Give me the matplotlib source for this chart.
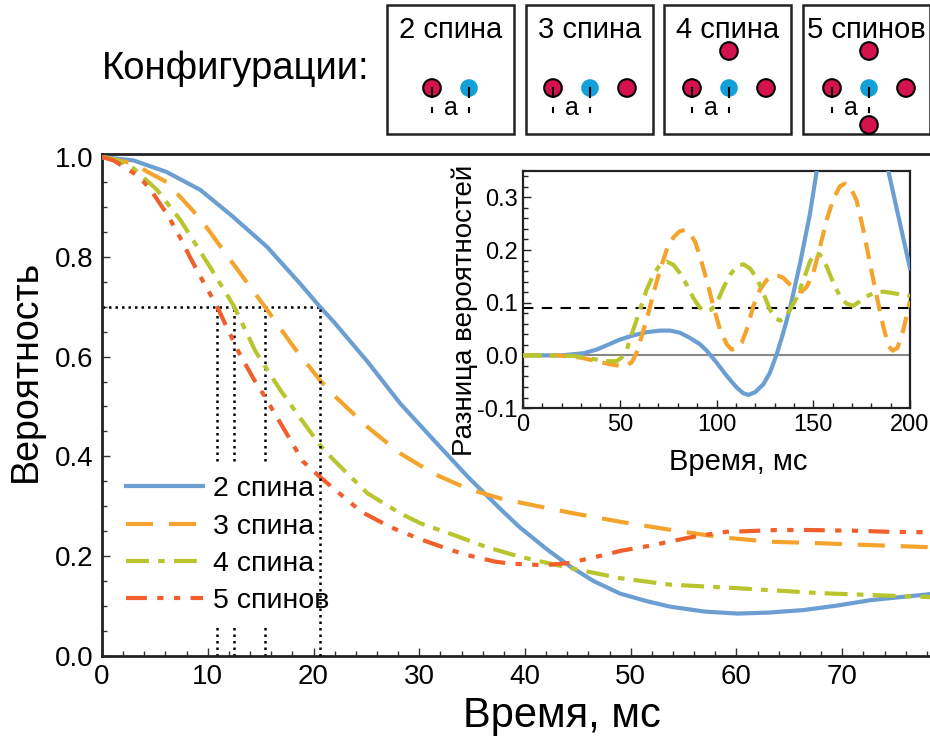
import numpy as np
import matplotlib
matplotlib.use("Agg")
import matplotlib.pyplot as plt
from matplotlib.patches import Rectangle, Circle
from matplotlib.ticker import MultipleLocator, FormatStrFormatter

plt.rcParams['font.family'] = ['Liberation Sans', 'DejaVu Sans']
plt.rcParams['axes.unicode_minus'] = False

# --- main plot: survival probability vs time (ms) ---
t2 = [0, 3, 6.1, 9.3, 12.4, 15.6, 18.7, 20.6, 21.9, 25.1, 28.2, 31.4, 34.6, 37.8, 39.5, 42, 44.3, 46.5, 49,
      51.5, 53.7, 57, 60.1, 63, 66.3, 69.5, 72.7, 78.3]
p2 = [1.0, 0.993, 0.97, 0.934, 0.88, 0.82, 0.747, 0.70, 0.67, 0.59, 0.506, 0.432, 0.359, 0.292, 0.258, 0.215, 0.179,
      0.15, 0.125, 0.11, 0.099, 0.089, 0.085, 0.087, 0.092, 0.101, 0.112, 0.124]

t3 = [0, 3, 4.5, 6.1, 9.3, 12.4, 15.4, 18.1, 20.6, 21.9, 25.1, 28.2, 31.4, 34.6, 37.8, 41.5, 44.3, 49, 53.7,
      58.5, 63.2, 67.9, 73, 78.3]
p3 = [1.0, 0.987, 0.968, 0.95, 0.876, 0.786, 0.70, 0.62, 0.553, 0.523, 0.459, 0.406, 0.365, 0.335, 0.315, 0.299,
      0.287, 0.269, 0.253, 0.238, 0.229, 0.226, 0.222, 0.218]

t4 = [0, 1.5, 3, 5.2, 7.4, 10.2, 12.5, 14.5, 16.8, 18.7, 20.6, 21.9, 25.1, 28.2, 30.1, 33.2, 36.4, 39.5, 44.3,
      49, 53.7, 60, 67.9, 78.3]
p4 = [1.0, 0.993, 0.977, 0.934, 0.874, 0.78, 0.70, 0.611, 0.535, 0.478, 0.423, 0.393, 0.326, 0.286, 0.266,
      0.243, 0.218, 0.199, 0.176, 0.156, 0.143, 0.136, 0.126, 0.118]

t5 = [0, 1.1, 3.5, 4.6, 6.2, 7.6, 8.3, 9.65, 10.9, 11.7, 13, 14.4, 15.3, 17.2, 19.0, 20.6, 23.5, 24.7, 27.3,
      30.1, 31.7, 34.2, 37.2, 38.7, 41.8, 44, 46.2, 49.1, 52.1, 53.6, 56.4, 59.1, 60.8, 63.8, 66.7, 71.4, 74.3, 78.3]
p5 = [1.0, 0.993, 0.961, 0.934, 0.884, 0.830, 0.80, 0.747, 0.70, 0.663, 0.606, 0.553, 0.523, 0.455, 0.39, 0.359,
      0.307, 0.287, 0.258, 0.234, 0.222, 0.204, 0.189, 0.185, 0.182, 0.186, 0.196, 0.211, 0.222, 0.229, 0.241,
      0.249, 0.25, 0.2525, 0.2525, 0.251, 0.249, 0.248]

level = 0.7
t_cross = [10.9, 12.5, 15.4, 20.6]   # time when each curve drops to 0.7

labels = ["2 спина", "3 спина", "4 спина", "5 спинов"]
colors = ["#6b9fd2", "#f4a42c", "#b9c52e", "#f15f2a"]
styles = ["-", (0, (6.5, 3.8)), (0, (5.5, 2.2, 1.6, 2.2)), (0, (5, 2.5, 1.5, 2.5, 1.5, 2.5))]

# --- inset: probability difference over a longer time ---
ti_2 = [0, 20, 31.2, 38.1, 43.2, 50.1, 57, 63.9, 70.8, 76, 81.1, 86.3, 91.5, 94.9, 100.1, 105.3, 110.4, 113.9,
        116.5, 119.9, 124.2, 127.6, 131.1, 134.5, 138, 143.2, 148.3, 151.8, 160, 170, 180, 184, 188.8, 200]
di_2 = [0, 0, 0.004, 0.011, 0.019, 0.030, 0.038, 0.044, 0.047, 0.047, 0.043, 0.033, 0.021, 0.009, -0.014, -0.039,
        -0.061, -0.072, -0.075, -0.070, -0.055, -0.033, 0.002, 0.043, 0.090, 0.175, 0.269, 0.350, 0.5, 0.6, 0.5,
        0.45, 0.35, 0.165]

ti_3 = [0, 17.4, 29.5, 38.1, 45, 50.1, 53.6, 56.2, 58.7, 61.3, 63.9, 67.4, 70.8, 74.2, 77.7, 81.1, 83.7, 86.3,
        88.9, 91.5, 94.9, 98.4, 101.8, 105.3, 107.8, 110.4, 113, 115.6, 119, 122.5, 125.9, 129.4, 132, 134.5, 138,
        141.4, 144, 146.6, 150, 153.5, 156.9, 160.4, 163.8, 166.4, 169, 172.4, 175.9, 179.3, 182.8, 186.2, 188.8,
        191, 193.5, 196.6, 200]
di_3 = [0, 0, -0.004, -0.011, -0.017, -0.020, -0.019, -0.013, 0.005, 0.036, 0.068, 0.118, 0.162, 0.200, 0.224,
        0.236, 0.238, 0.231, 0.216, 0.187, 0.143, 0.093, 0.049, 0.021, 0.011, 0.013, 0.024, 0.049, 0.093, 0.125,
        0.143, 0.151, 0.151, 0.147, 0.134, 0.123, 0.121, 0.130, 0.156, 0.206, 0.257, 0.297, 0.321, 0.326, 0.321,
        0.294, 0.238, 0.175, 0.112, 0.055, 0.018, 0.009, 0.014, 0.049, 0.103]

ti_4 = [0, 26, 34.6, 43.2, 48.4, 51, 53.6, 57, 60.5, 63.9, 67.4, 70.8, 74.2, 77.7, 81.1, 84.6, 88, 91.5, 94.9,
        97.5, 100.1, 103.5, 107, 110.4, 113.9, 117.3, 120.8, 124.2, 127.6, 130.2, 132.8, 135.4, 138, 141.4, 144.9,
        148.3, 150.9, 153.5, 156.9, 160.4, 163.8, 167.3, 170.7, 174.2, 177.6, 181.1, 186.2, 191.4, 200]
di_4 = [0, -0.001, -0.006, -0.011, -0.011, -0.004, 0.011, 0.049, 0.087, 0.125, 0.153, 0.172, 0.178, 0.172, 0.156,
        0.134, 0.109, 0.090, 0.084, 0.087, 0.099, 0.128, 0.153, 0.169, 0.173, 0.165, 0.147, 0.118, 0.087, 0.071,
        0.066, 0.071, 0.087, 0.109, 0.143, 0.178, 0.195, 0.191, 0.169, 0.137, 0.112, 0.098, 0.094, 0.103, 0.112,
        0.118, 0.121, 0.118, 0.113]
threshold = 0.09

fig = plt.figure(figsize=(9.3, 7.4), dpi=100)

ax = fig.add_axes([0.1097, 0.1135, 0.8903, 0.6784])
for t, p, c, ls, lab in zip([t2, t3, t4, t5], [p2, p3, p4, p5], colors, styles, labels):
    ax.plot(t, p, color=c, ls=ls, lw=3, label=lab, zorder=3)

# dotted guides at the 0.7 level; the legend box hides the short ones
ax.plot([0, max(t_cross)], [level, level], color="k", ls=(0, (1, 1.6)), lw=1.8, zorder=2)
for tc in t_cross:
    ax.plot([tc, tc], [0, level], color="k", ls=(0, (1, 1.6)), lw=1.8,
            zorder=4 if tc == max(t_cross) else 2)

ax.set_xlim(0, 78.3)
ax.set_ylim(0, 1.006)
ax.xaxis.set_major_locator(MultipleLocator(10))
ax.xaxis.set_minor_locator(MultipleLocator(2))
ax.yaxis.set_major_locator(MultipleLocator(0.2))
ax.yaxis.set_minor_locator(MultipleLocator(0.05))
ax.yaxis.set_major_formatter(FormatStrFormatter("%.1f"))
ax.tick_params(which="both", direction="in", top=False, right=False, labelsize=20, color="#333")
ax.tick_params(which="major", length=6, width=1, pad=6)
ax.tick_params(which="minor", length=3.5, width=1)
ax.spines["right"].set_visible(False)
for s in ["left", "bottom", "top"]:
    ax.spines[s].set_linewidth(2)
    ax.spines[s].set_color("#222")
ax.set_xlabel("Время, мс", fontsize=30)
ax.set_ylabel("Вероятность", fontsize=27)
ax.xaxis.set_label_coords(0.556, -0.08)
ax.yaxis.set_label_coords(-0.07, 0.568)

leg = ax.legend(loc="upper left", bbox_to_anchor=(0.0155, 0.381), fontsize=20.5, frameon=True,
                facecolor="white", edgecolor="none", framealpha=1, fancybox=False,
                handlelength=2.7, handletextpad=0.35, labelspacing=0.4, borderpad=0.4, borderaxespad=0)
leg.set_zorder(2.5)

# inset
axi = fig.add_axes([0.5624, 0.4486, 0.4161, 0.3203])
axi.axhline(0, color="#888888", lw=1.5, zorder=1)
axi.axhline(threshold, color="k", ls=(0, (5, 4)), lw=1.5, zorder=1)
axi.plot(ti_2, di_2, color=colors[0], lw=3, zorder=3)
axi.plot(ti_3, di_3, color=colors[1], lw=3, ls=(0, (4, 2.4)), zorder=3)
axi.plot(ti_4, di_4, color=colors[2], lw=3, ls=(0, (4.5, 2, 1.5, 2)), zorder=3)
axi.set_xlim(0, 200)
axi.set_ylim(-0.1, 0.35)
axi.xaxis.set_major_locator(MultipleLocator(50))
axi.xaxis.set_minor_locator(MultipleLocator(10))
axi.yaxis.set_major_locator(MultipleLocator(0.1))
axi.yaxis.set_minor_locator(MultipleLocator(0.02))
axi.yaxis.set_major_formatter(FormatStrFormatter("%.1f"))
axi.tick_params(which="both", direction="in", top=False, right=False, labelsize=17, color="#222")
axi.tick_params(which="major", length=6, width=1, pad=4)
axi.tick_params(which="minor", length=3.5, width=1)
for s in axi.spines.values():
    s.set_linewidth(1.6)
    s.set_color("#222")
axi.set_xlabel("Время, мс", fontsize=21)
axi.set_ylabel("Разница вероятностей", fontsize=20)
axi.xaxis.set_label_coords(0.556, -0.17)
axi.yaxis.set_label_coords(-0.116, 0.41)

# header with the spin configurations (pixel coordinates)
hdr = fig.add_axes([0, 0, 1, 1], zorder=-1)
hdr.set_xlim(0, 930)
hdr.set_ylim(740, 0)
hdr.axis("off")

box_left = [387, 526, 664, 803]
box_w = 127
blue_x = [469, 590, 729, 869]
row_y = 88
step = 37
# neighbour sites around the central spin, in lattice units
sites = [
    [(-1, 0)],
    [(-1, 0), (1, 0)],
    [(-1, 0), (1, 0), (0, -1)],
    [(-1, 0), (1, 0), (0, -1), (0, 1)],
]

hdr.text(102, 79, "Конфигурации:", fontsize=27.5, va="baseline", ha="left")
for bl, bx, nb, lab in zip(box_left, blue_x, sites, labels):
    hdr.add_patch(Rectangle((bl, 5), box_w, 129, fill=False, lw=1.8, ec="#222"))
    hdr.text(bl + box_w / 2, 38, lab, fontsize=21, ha="center", va="baseline")
    hdr.add_patch(Circle((bx, row_y), 8.8, fc="#12a0d9", ec="none"))
    for dx, dy in nb:
        hdr.add_patch(Circle((bx + dx * step, row_y + dy * step), 8.8, fc="#d4124e", ec="k", lw=1.5))
    for xx in [bx - step, bx]:
        hdr.plot([xx, xx], [row_y, row_y + 9], color="k", lw=1.5)
        hdr.plot([xx, xx], [row_y + 20, row_y + 24], color="k", lw=1.5)
    hdr.text(bx - step / 2, 108, "a", fontsize=18, ha="center", va="center")

fig.savefig("out.png", dpi=100)
